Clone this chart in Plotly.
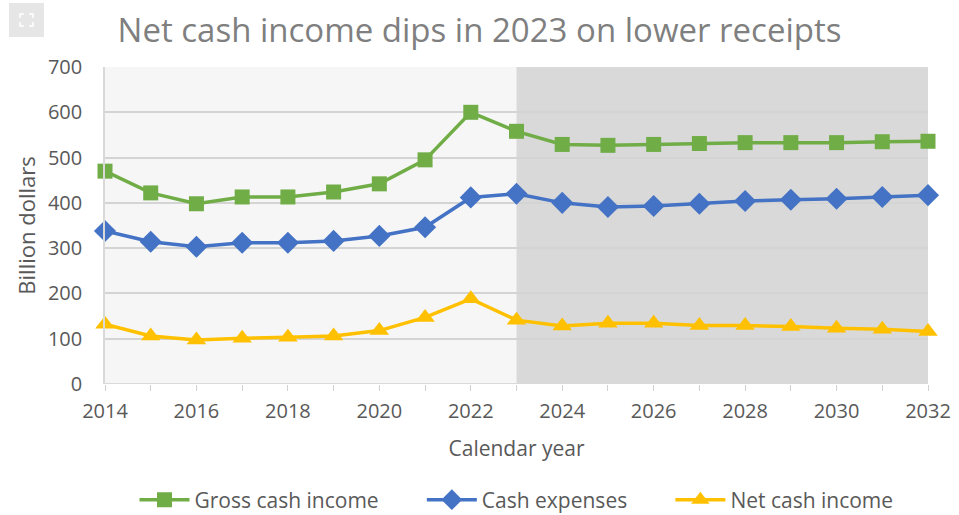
import plotly.graph_objects as go

# Farm sector cash income, billion dollars (2023 onward are projections)
years = list(range(2014, 2033))
gross_cash_income = [470, 422, 398, 413, 413, 424, 442, 495, 600, 558,
                     529, 527, 529, 531, 533, 533, 533, 535, 536]
cash_expenses = [338, 314, 303, 312, 312, 316, 327, 346, 412, 420,
                 400, 391, 393, 398, 404, 407, 409, 413, 417]
net_cash_income = [132, 106, 97, 101, 103, 106, 118, 147, 188, 141,
                   128, 134, 134, 129, 129, 127, 123, 121, 116]
projection_start = 2023
x_tick_labels = [str(y) for y in range(2014, 2033, 2)]
y_ticks = [0, 100, 200, 300, 400, 500, 600, 700]

GREEN = "#70ad47"
BLUE = "#4472c4"
GOLD = "#ffc000"
TEXT = "#595959"
FONT = "Open Sans"
FS = 20

W, H = 959, 515
ML, MR, MT, MB = 105, 31, 67, 131

fig = go.Figure()

# Trailing no-break spaces widen the gap between legend entries
PAD = "\u00a0" * 7
series = [
    ("Gross cash income" + PAD, gross_cash_income, GREEN, "square", 15),
    ("Cash expenses" + PAD, cash_expenses, BLUE, "diamond", 17),
    ("Net cash income", net_cash_income, GOLD, "triangle-up", 17),
]
for name, vals, color, symbol, size in series:
    fig.add_trace(go.Scatter(
        x=years, y=vals, name=name, mode="lines+markers",
        line=dict(color=color, width=3.5),
        marker=dict(color=color, symbol=symbol, size=size),
        cliponaxis=False,
    ))

# Shaded projection period
fig.add_shape(type="rect", xref="x", yref="y",
              x0=projection_start, x1=years[-1], y0=0, y1=700,
              fillcolor="#d9d9d9", line_width=0, layer="below")

# Baseline along the x axis
fig.add_shape(type="line", xref="x domain", yref="y",
              x0=0, x1=1, y0=0, y1=0,
              line=dict(color="#d0d0d0", width=1.5), layer="below")

fig.update_layout(
    width=W, height=H,
    margin=dict(l=ML, r=MR, t=MT, b=MB, autoexpand=False),
    paper_bgcolor="white",
    plot_bgcolor="#f6f6f6",
    font=dict(family=FONT, color=TEXT, size=FS),
    title=dict(text="Net cash income dips in 2023 on lower receipts",
               x=0.5, xref="container", xanchor="center",
               y=1 - 30 / H, yref="container", yanchor="middle",
               font=dict(family=FONT, size=33, color="#7f7f7f")),
    showlegend=True,
    legend=dict(orientation="h", x=0.5, xanchor="center",
                xref="paper", y=1 - 500 / H, yref="container",
                yanchor="middle",
                font=dict(size=21, color=TEXT),
                itemwidth=50, traceorder="normal"),
    xaxis=dict(
        range=[2014, 2032], tickvals=list(range(2014, 2033, 2)),
        ticktext=x_tick_labels, automargin=False,
        showgrid=False, zeroline=False, showline=False,
        ticks="outside", ticklen=6, tickcolor="#d0d0d0",
        minor=dict(dtick=1, tick0=2014, ticks="outside", ticklen=6,
                   tickcolor="#d0d0d0", showgrid=False),
        tickfont=dict(size=FS, color=TEXT),
        ticklabelstandoff=3,
        title=dict(text="Calendar year", font=dict(size=21, color=TEXT),
                   standoff=18),
    ),
    yaxis=dict(
        range=[0, 700], tickvals=y_ticks, automargin=False,
        showgrid=True, gridcolor="#d4d4d4", gridwidth=1.5,
        zeroline=False, showline=True, linecolor="#d9d9d9", linewidth=1.5,
        ticks="", ticklabelstandoff=17,
        tickfont=dict(size=FS, color=TEXT),
        title=dict(text="Billion dollars", font=dict(size=22, color=TEXT),
                   standoff=6),
    ),
)

# Expand button in the top-left corner (pixel positions mapped to paper units)
pw, ph = W - ML - MR, H - MT - MB


def px(xp):
    return (xp - ML) / pw


def py(yp):
    return (H - MB - yp) / ph


fig.add_shape(type="rect", xref="paper", yref="paper",
              x0=px(9), x1=px(44), y0=py(37), y1=py(3),
              fillcolor="#e6e6e6", line_width=0, layer="above")
for cx, cy, dx, dy in [(20, 14, 1, 1), (33, 14, -1, 1), (20, 26, 1, -1), (33, 26, -1, -1)]:
    path = (f"M{px(cx + 4 * dx)},{py(cy)} L{px(cx)},{py(cy)} "
            f"L{px(cx)},{py(cy + 4 * dy)}")
    fig.add_shape(type="path", xref="paper", yref="paper", path=path,
                  line=dict(color="white", width=1.5), layer="above")

fig.write_html("out.html")
